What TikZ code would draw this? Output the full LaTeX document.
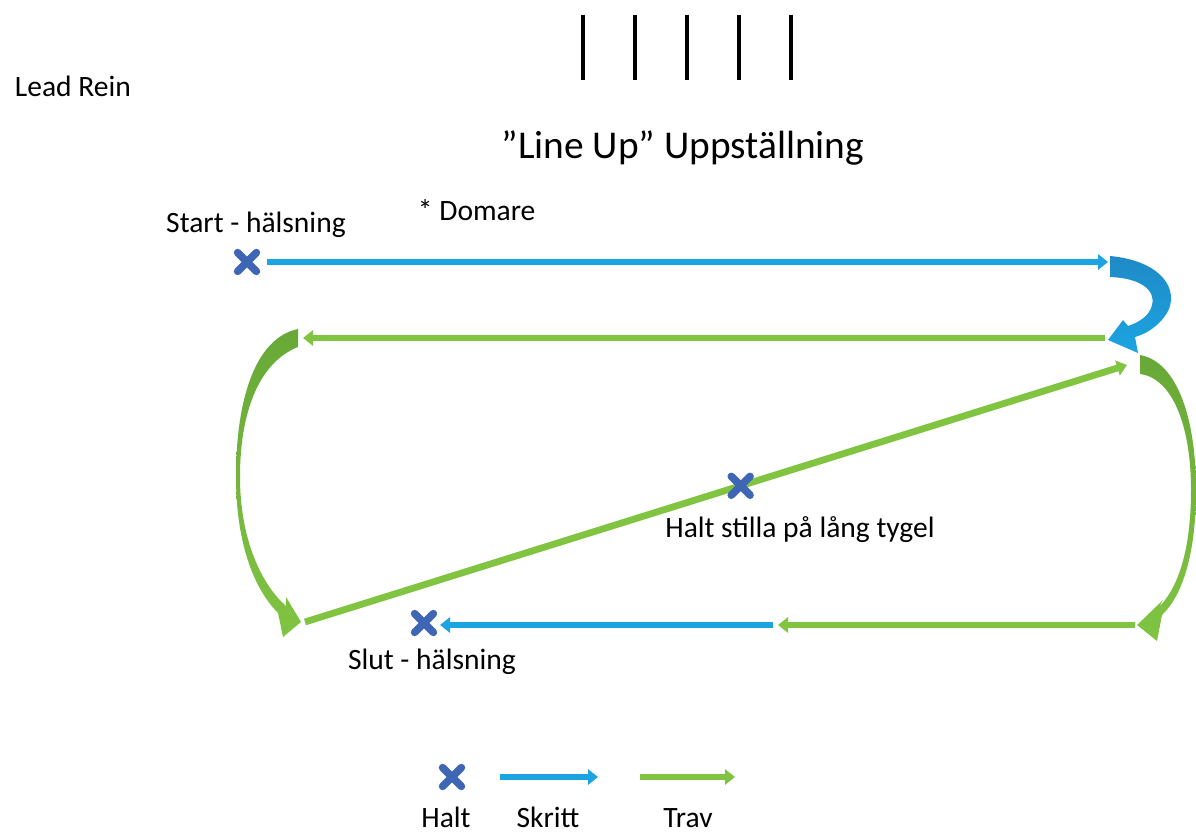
\documentclass[tikz,border=0pt]{standalone}
\usepackage{fontspec}
\setmainfont{Carlito}
\usetikzlibrary{arrows.meta,shapes.misc}
\definecolor{skritt}{RGB}{28,164,226}
\definecolor{skrittdark}{RGB}{30,138,198}
\definecolor{trav}{RGB}{128,196,66}
\definecolor{travdark}{RGB}{104,168,56}
\definecolor{haltblue}{RGB}{62,102,180}

\begin{document}
\begin{tikzpicture}
  [x=0.025cm, y=-0.025cm,
  every node/.style={font=\fontsize{21}{25}\selectfont},
  halt/.style={cross out, draw=haltblue, line width=0.19cm, minimum size=0.28cm, inner sep=0pt, line cap=round},
  skrittline/.style={draw=skritt, line width=0.16cm, -{Triangle[length=0.25cm, width=0.38cm]}},
  travline/.style={draw=trav, line width=0.17cm, -{Triangle[length=0.25cm, width=0.38cm]}},
  bar/.style={line width=0.08cm}]
  \useasboundingbox (0,0) rectangle (1196,832);

  % judges
  \foreach \x in {583,635,687,739,791}
    \draw [bar] (\x,15) -- (\x,80);

  % texts
  \node [anchor=west] (leadrein) at (10,86) {Lead Rein};
  \node [font=\fontsize{28}{32}\selectfont] (title) at (683,148) {”Line Up” Uppställning};
  \node [anchor=west] (domare) at (413,210) {* Domare};
  \node (starttext) at (256,225) {Start - hälsning};
  \node (stillatext) at (800,530) {Halt stilla på lång tygel};
  \node (sluttext) at (432,662) {Slut - hälsning};

  % halts
  \node [halt] (start) at (247,262) {};
  \node [halt] (slut) at (424,623) {};

  % points
  \coordinate (a1) at (267,262);
  \coordinate (a2) at (1108,262);
  \coordinate (b1) at (1105,338);
  \coordinate (b2) at (303,338);
  \coordinate (c1) at (305,622);
  \coordinate (c2) at (1127,365);
  \coordinate (d1) at (1135,625);
  \coordinate (d2) at (778,625);
  \coordinate (e1) at (773,625);
  \coordinate (e2) at (440,625);

  % edges
  \path [skrittline] (a1) -- (a2);
  \path [travline] (b1) -- (b2);
  \path [travline] (c1) -- node [halt, pos=0.53] (stilla) {} (c2);
  \path [travline] (d1) -- (d2);
  \path [skrittline] (e1) -- (e2);

  % turns
  \shade [top color=skrittdark, bottom color=skritt]
    (1110,256) .. controls (1162,261) and (1180,290) .. (1167,313)
    .. controls (1159,326) and (1146,334) .. (1135,337)
    -- (1138,353) -- (1108,340) -- (1123,320) -- (1128,326)
    .. controls (1140,322) and (1150,315) .. (1152,305)
    .. controls (1156,290) and (1140,278) .. (1110,277) -- cycle;
  \shade [top color=travdark, bottom color=trav]
    (298,329) .. controls (255,338) and (236,400) .. (236,477)
    .. controls (236,545) and (255,590) .. (278,613)
    -- (283,637) -- (301,622) -- (286,597) -- (286,606)
    .. controls (262,585) and (240,540) .. (240,477)
    .. controls (240,410) and (260,362) .. (298,347) -- cycle;
  \shade [top color=travdark, bottom color=trav]
    (1140,355) .. controls (1178,362) and (1196,420) .. (1196,490)
    .. controls (1196,560) and (1180,598) .. (1162,615)
    -- (1157,641) -- (1137,625) -- (1163,600) -- (1159,607)
    .. controls (1178,588) and (1191,550) .. (1191,490)
    .. controls (1191,425) and (1172,378) .. (1140,374) -- cycle;

  % legend
  \node [halt] (lhalt) at (452,777) {};
  \coordinate (ls1) at (500,777);
  \coordinate (ls2) at (598,777);
  \coordinate (lt1) at (640,777);
  \coordinate (lt2) at (735,777);
  \path [skrittline] (ls1) -- (ls2);
  \path [travline] (lt1) -- (lt2);
  \node [anchor=base] (haltlabel) at (446,827) {Halt};
  \node [anchor=base] (skrittlabel) at (548,827) {Skritt};
  \node [anchor=base] (travlabel) at (688,827) {Trav};

\end{tikzpicture}
\end{document}
